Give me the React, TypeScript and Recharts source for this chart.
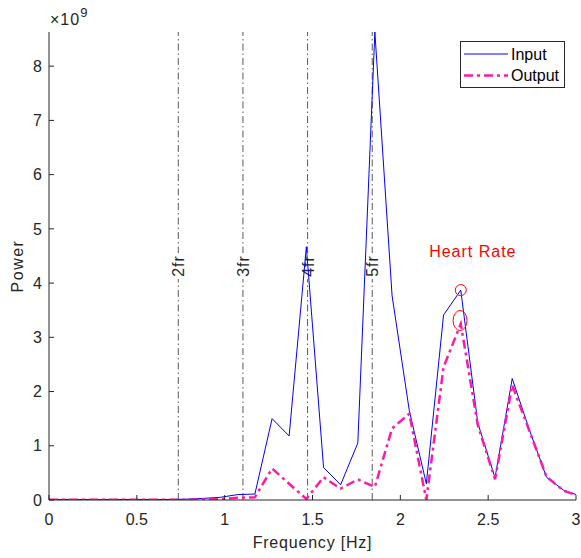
import React from 'react';
import { LineChart, Line, XAxis, YAxis, ReferenceLine, ReferenceDot, Legend } from 'recharts';

// Frequency bins [Hz]
const freqHz = [
  0, 0.098, 0.195, 0.293, 0.391, 0.488, 0.586, 0.684, 0.781, 0.879, 0.977, 1.074,
  1.172, 1.27, 1.367, 1.465, 1.563, 1.66, 1.758, 1.855, 1.953, 2.051, 2.148, 2.246,
  2.344, 2.441, 2.539, 2.637, 2.734, 2.832, 2.93, 3.027,
];
// Power, in units of 10^9
const inputPower = [
  0.01, 0.01, 0.01, 0.01, 0.01, 0.01, 0.01, 0.01, 0.015, 0.03, 0.05, 0.1,
  0.11, 1.5, 1.18, 4.67, 0.6, 0.28, 1.05, 8.63, 3.77, 1.65, 0.3, 3.41,
  3.87, 1.42, 0.41, 2.24, 1.3, 0.42, 0.18, 0.07,
];
const outputPower = [
  0.005, 0.005, 0.005, 0.005, 0.005, 0.005, 0.005, 0.005, 0.005, 0.01, 0.02, 0.04,
  0.05, 0.58, 0.3, 0.02, 0.42, 0.21, 0.38, 0.24, 1.32, 1.59, 0.0, 2.45,
  3.25, 1.38, 0.38, 2.12, 1.28, 0.43, 0.17, 0.06,
];
const xTicks = [0, 0.5, 1, 1.5, 2, 2.5, 3];
const yTicks = [0, 1, 2, 3, 4, 5, 6, 7, 8];
const harmonicFreqs = [0.736, 1.104, 1.472, 1.84];
const harmonicLabels = ['2fr', '3fr', '4fr', '5fr'];
const yMax = 8.63;
const inputPeak = { f: 2.344, p: 3.87 };
const outputPeak = { f: 2.34, p: 3.31 };
const heartRateText = { f: 2.164, p: 4.49, text: 'Heart Rate' };
const xTitle = 'Frequency [Hz]';
const yTitle = 'Power';
const exponentText = { base: '×10', exp: '9' };

const data = freqHz.map((f, i) => ({ f, Input: inputPower[i], Output: outputPower[i] }));

const FONT = '"Liberation Sans", Arial, Helvetica, sans-serif';
const AX = '#262626';
const BLUE = '#0000ff';
const PINK = '#ff1aa3';

const HarmonicLabel = (props: any) => {
  const { viewBox, value } = props;
  if (!viewBox) return null;
  const cx = viewBox.x;
  const cy = viewBox.y + viewBox.height / 2;
  return (
    <g>
      <rect x={cx - 7} y={cy - 13} width={14} height={26} fill="#fff" />
      <text
        x={cx}
        y={cy + 6}
        transform={`rotate(-90 ${cx} ${cy})`}
        textAnchor="middle"
        fontSize={16}
        letterSpacing={1}
        fontFamily={FONT}
        fill={AX}
      >
        {value}
      </text>
    </g>
  );
};

const HeartRateLabel = (props: any) => {
  const { viewBox } = props;
  if (!viewBox) return null;
  const x = viewBox.x + viewBox.width / 2;
  const y = viewBox.y + viewBox.height / 2;
  return (
    <text x={x} y={y} textAnchor="start" fontSize={16} letterSpacing={1} fontFamily={FONT} fill="#ff0000">
      {heartRateText.text}
    </text>
  );
};

const EllipseShape = (props: any) => {
  const { cx, cy } = props;
  if (cx == null || cy == null) return null;
  return <ellipse cx={cx} cy={cy} rx={7} ry={10} fill="none" stroke="#ff0000" strokeWidth={1} />;
};

const LegendContent = (props: any) => {
  const { payload } = props;
  const items = payload || [];
  return (
    <svg width={105} height={47} style={{ display: 'block' }}>
      <rect x={0.5} y={0.5} width={104} height={46} fill="#fff" stroke={AX} strokeWidth={1} />
      {items.map((it: any, i: number) => {
        const y = 13 + i * 21.5;
        const dashed = it.value === 'Output';
        return (
          <g key={it.value}>
            <line
              x1={4}
              x2={48}
              y1={y}
              y2={y}
              stroke={it.color}
              strokeWidth={dashed ? 2.5 : 1}
              strokeDasharray={dashed ? '9 4 3 4' : undefined}
            />
            <text x={51} y={y + 5.5} fontSize={16} fontFamily={FONT} fill="#000">
              {it.value}
            </text>
          </g>
        );
      })}
    </svg>
  );
};

export default function App() {
  return (
    <div style={{ position: 'absolute', left: 0, top: 0, width: 581, height: 558, background: '#fff' }}>
      <LineChart width={581} height={558} data={data} margin={{ top: 32, right: 5, bottom: 0, left: 0 }}>
        <XAxis
          xAxisId="x"
          dataKey="f"
          type="number"
          domain={[0, 3]}
          allowDataOverflow
          ticks={xTicks}
          interval={0}
          height={58}
          tickSize={-5}
          tickMargin={19}
          tickLine={{ stroke: AX }}
          axisLine={{ stroke: AX }}
          tick={{ fill: AX, fontSize: 16, fontFamily: FONT }}
          label={{
            value: xTitle,
            position: 'insideBottom',
            offset: 10,
            fontSize: 16,
            fontFamily: FONT,
            fill: AX,
            letterSpacing: 0.8,
          }}
        />
        <XAxis
          xAxisId="top"
          orientation="top"
          dataKey="f"
          type="number"
          domain={[0, 3]}
          allowDataOverflow
          ticks={xTicks}
          interval={0}
          height={0}
          tickSize={-5}
          tick={false}
          tickLine={{ stroke: AX }}
          axisLine={{ stroke: AX }}
        />
        <YAxis
          yAxisId="y"
          type="number"
          domain={[0, yMax]}
          allowDataOverflow
          ticks={yTicks}
          interval={0}
          width={49}
          tickSize={-5}
          tickMargin={12}
          tickLine={{ stroke: AX }}
          axisLine={{ stroke: AX }}
          tick={{ fill: AX, fontSize: 16, fontFamily: FONT }}
          label={{
            value: yTitle,
            angle: -90,
            position: 'insideLeft',
            offset: 17,
            fontSize: 16,
            fontFamily: FONT,
            fill: AX,
            letterSpacing: 1.5,
            style: { textAnchor: 'middle' },
          }}
        />
        <YAxis
          yAxisId="right"
          orientation="right"
          type="number"
          domain={[0, yMax]}
          allowDataOverflow
          ticks={yTicks}
          interval={0}
          width={0}
          tickSize={-5}
          tick={false}
          tickLine={{ stroke: AX }}
          axisLine={{ stroke: AX }}
        />
        {harmonicFreqs.map((f, i) => (
          <ReferenceLine
            key={harmonicLabels[i]}
            xAxisId="x"
            yAxisId="y"
            x={f}
            stroke="#5a5a5a"
            strokeWidth={1}
            strokeDasharray="7 3 1.5 3"
            label={<HarmonicLabel value={harmonicLabels[i]} />}
          />
        ))}
        <Line
          xAxisId="x"
          yAxisId="y"
          dataKey="Input"
          stroke={BLUE}
          strokeWidth={1}
          dot={false}
          activeDot={false}
          isAnimationActive={false}
        />
        <Line
          xAxisId="x"
          yAxisId="y"
          dataKey="Output"
          stroke={PINK}
          strokeWidth={2.5}
          strokeDasharray="9 4 3 4"
          dot={false}
          activeDot={false}
          isAnimationActive={false}
        />
        <ReferenceDot
          xAxisId="x"
          yAxisId="y"
          x={inputPeak.f}
          y={inputPeak.p}
          r={5.5}
          fill="none"
          stroke="#ff0000"
          strokeWidth={1}
        />
        <ReferenceDot
          xAxisId="x"
          yAxisId="y"
          x={outputPeak.f}
          y={outputPeak.p}
          r={7}
          shape={<EllipseShape />}
        />
        <ReferenceDot
          xAxisId="x"
          yAxisId="y"
          x={heartRateText.f}
          y={heartRateText.p}
          r={0}
          fill="none"
          stroke="none"
          label={<HeartRateLabel />}
        />
        <Legend
          layout="vertical"
          align="center"
          verticalAlign="middle"
          content={<LegendContent />}
          wrapperStyle={{ left: 460, top: 41, width: 105, height: 47 }}
        />
      </LineChart>
      <div
        style={{
          position: 'absolute',
          left: 50,
          top: 12,
          fontFamily: FONT,
          fontSize: 16,
          lineHeight: '16px',
          color: AX,
          letterSpacing: 1,
          whiteSpace: 'nowrap',
        }}
      >
        {exponentText.base}
        <span style={{ fontSize: 13, position: 'relative', top: -8 }}>{exponentText.exp}</span>
      </div>
    </div>
  );
}
